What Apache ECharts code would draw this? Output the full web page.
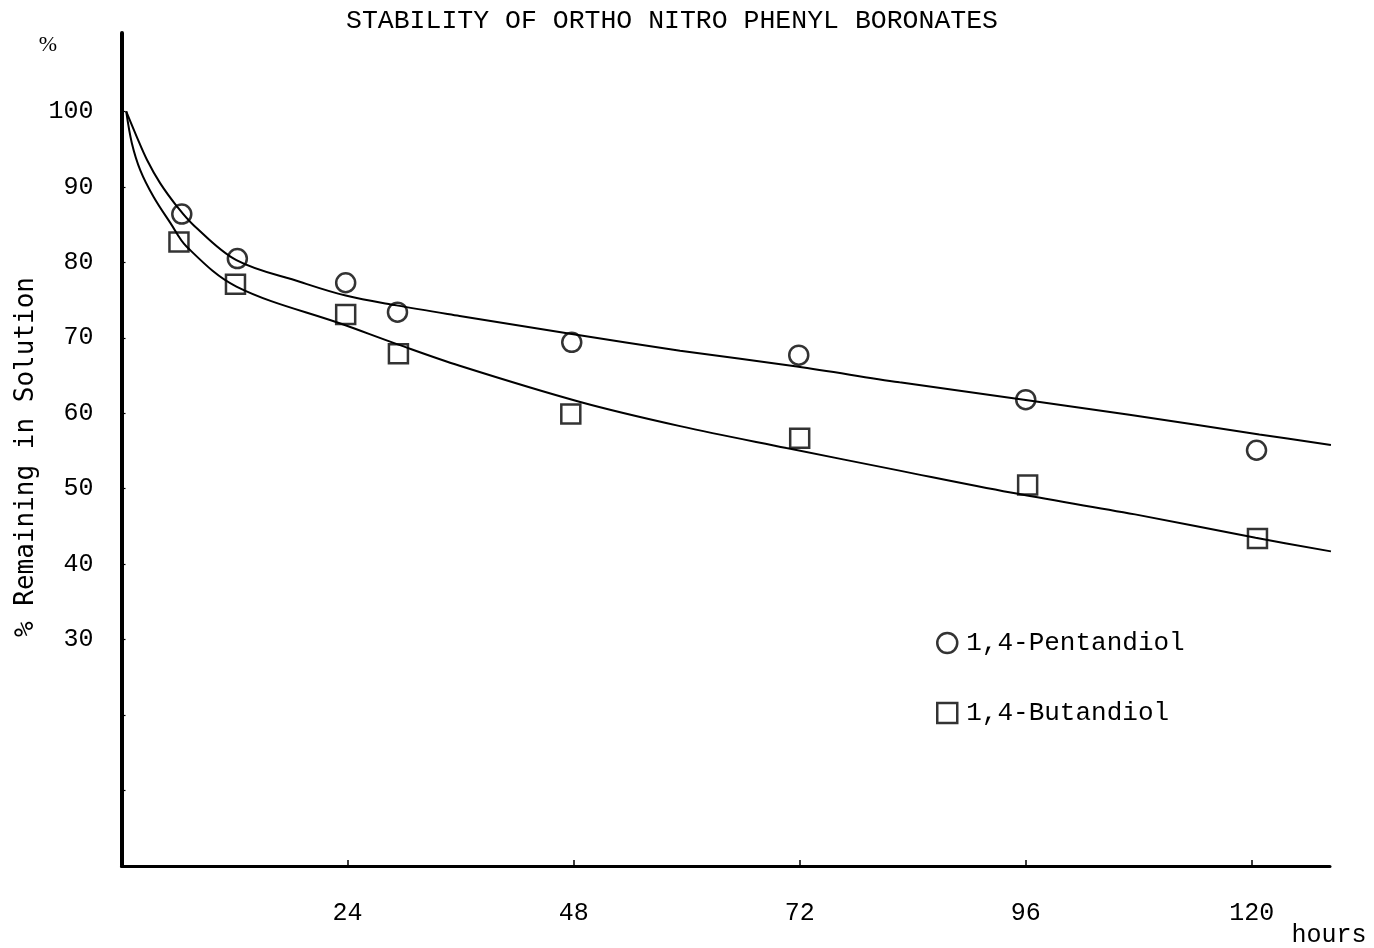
<!DOCTYPE html>
<html>
<head>
<meta charset="utf-8">
<title>Stability of ortho nitro phenyl boronates</title>
<script src="https://cdn.jsdelivr.net/npm/echarts@6/dist/echarts.min.js"></script>
<style>
  html, body { margin: 0; padding: 0; background: #ffffff; }
  #chart { width: 1374px; height: 948px; }
</style>
</head>
<body>
<div id="chart"></div>
<script>
// Measured points: [hours, % remaining]
const pentandiolPoints = [
  [6.4, 86.4], [12.3, 80.5], [23.8, 77.3], [29.3, 73.4],
  [47.8, 69.4], [71.9, 67.7], [96.0, 61.8], [120.5, 55.1]
];
const butandiolPoints = [
  [6.1, 82.7], [12.1, 77.1], [23.8, 73.1], [29.4, 67.9],
  [47.7, 59.9], [72.0, 56.7], [96.2, 50.5], [120.6, 43.4]
];

// Hand-fitted decay curves through each set of points
const pentandiolCurve = [
  [0.5, 100], [1.6, 96.7], [2.7, 93.6], [4.1, 90.5], [5.9, 87.4], [7.6, 85.0],
  [12.2, 80.3], [19.0, 77.4], [23.8, 75.6], [29.2, 74.3], [35.9, 72.9],
  [47.8, 70.5], [59.3, 68.3], [71.7, 66.2], [82.6, 64.1], [95.8, 61.8],
  [107.0, 59.8], [120.8, 57.2], [128.4, 55.8]
];
const butandiolCurve = [
  [0.5, 100], [1.1, 95.8], [2.0, 92.2], [3.4, 88.7], [5.2, 85.2], [6.9, 82.1],
  [12.2, 76.8], [23.7, 71.7], [29.4, 69.1], [35.9, 66.3], [48.7, 61.5],
  [59.3, 58.3], [70.6, 55.4], [82.6, 52.4], [94.4, 49.5], [107.6, 46.6],
  [120.4, 43.5], [128.4, 41.7]
];

// Axis ticks and labels
const xTickValues = [24, 48, 72, 96, 120];
const yTickValues = [10, 20, 30, 40, 50, 60, 70, 80, 90, 100];
const yLabelValues = [30, 40, 50, 60, 70, 80, 90, 100];

const seriesNames = ['1,4-Pentandiol', '1,4-Butandiol'];
const titleText = 'STABILITY OF ORTHO NITRO PHENYL BORONATES';
const yAxisTitle = '% Remaining in Solution';
const xAxisTitle = 'hours';

const INK = '#000000';
const TYPE_FONT = '"Liberation Mono", "DejaVu Sans Mono", monospace';

const chart = echarts.init(document.getElementById('chart'), null, { renderer: 'canvas' });

const hollow = { color: 'rgba(0,0,0,0)', borderColor: INK, borderWidth: 2.5 };

chart.setOption({
  backgroundColor: '#ffffff',
  animation: false,
  grid: { left: 121.5, top: 33, width: 1208.5, height: 833, containLabel: false },
  xAxis: {
    type: 'value',
    min: 0,
    max: 128.3,
    interval: 24,
    splitLine: { show: false },
    axisLine: { show: true, lineStyle: { color: INK, width: 3 } },
    axisTick: {
      show: true, inside: true, length: 6,
      customValues: xTickValues,
      lineStyle: { color: INK, width: 1.5 }
    },
    axisLabel: {
      show: true,
      customValues: xTickValues,
      margin: 35,
      color: INK,
      fontFamily: TYPE_FONT,
      fontSize: 25
    }
  },
  yAxis: {
    type: 'value',
    min: 0,
    max: 110.4,
    interval: 10,
    splitLine: { show: false },
    axisLine: { show: true, lineStyle: { color: INK, width: 4 } },
    axisTick: {
      show: true, inside: true, length: 4,
      customValues: yTickValues,
      lineStyle: { color: INK, width: 1.2 }
    },
    axisLabel: {
      show: true,
      customValues: yLabelValues,
      margin: 28,
      color: INK,
      fontFamily: TYPE_FONT,
      fontSize: 25
    }
  },
  legend: {
    orient: 'vertical',
    left: 931,
    top: 625,
    itemWidth: 20,
    itemHeight: 20,
    itemGap: 44,
    data: [
      { name: seriesNames[0], icon: 'circle', itemStyle: hollow },
      { name: seriesNames[1], icon: 'rect', itemStyle: hollow }
    ],
    textStyle: { color: INK, fontFamily: TYPE_FONT, fontSize: 26, padding: [0, 0, 0, 4] }
  },
  graphic: [
    {
      type: 'text', x: 672, y: 21,
      style: {
        text: titleText, align: 'center', verticalAlign: 'middle',
        fill: INK, font: '26.5px "Liberation Mono", monospace'
      }
    },
    {
      type: 'text', x: 48, y: 45,
      style: {
        text: '%', align: 'center', verticalAlign: 'middle',
        fill: INK, font: '22px "Liberation Serif", serif'
      }
    },
    {
      type: 'text', x: 26, y: 457, rotation: Math.PI / 2,
      style: {
        text: yAxisTitle, align: 'center', verticalAlign: 'middle',
        fill: INK, font: '26px "DejaVu Sans Mono", monospace'
      }
    },
    {
      type: 'text', x: 1329, y: 935,
      style: {
        text: xAxisTitle, align: 'center', verticalAlign: 'middle',
        fill: INK, font: '25px "Liberation Mono", monospace'
      }
    }
  ],
  series: [
    {
      name: 'pentandiol-fit',
      type: 'line',
      data: pentandiolCurve,
      showSymbol: false,
      smooth: 0.35,
      lineStyle: { color: INK, width: 2 },
      silent: true
    },
    {
      name: 'butandiol-fit',
      type: 'line',
      data: butandiolCurve,
      showSymbol: false,
      smooth: 0.35,
      lineStyle: { color: INK, width: 2 },
      silent: true
    },
    {
      name: seriesNames[0],
      type: 'scatter',
      data: pentandiolPoints,
      symbol: 'circle',
      symbolSize: 19,
      itemStyle: hollow,
      z: 3
    },
    {
      name: seriesNames[1],
      type: 'scatter',
      data: butandiolPoints,
      symbol: 'rect',
      symbolSize: 19,
      itemStyle: hollow,
      z: 3
    }
  ]
});
</script>
</body>
</html>
